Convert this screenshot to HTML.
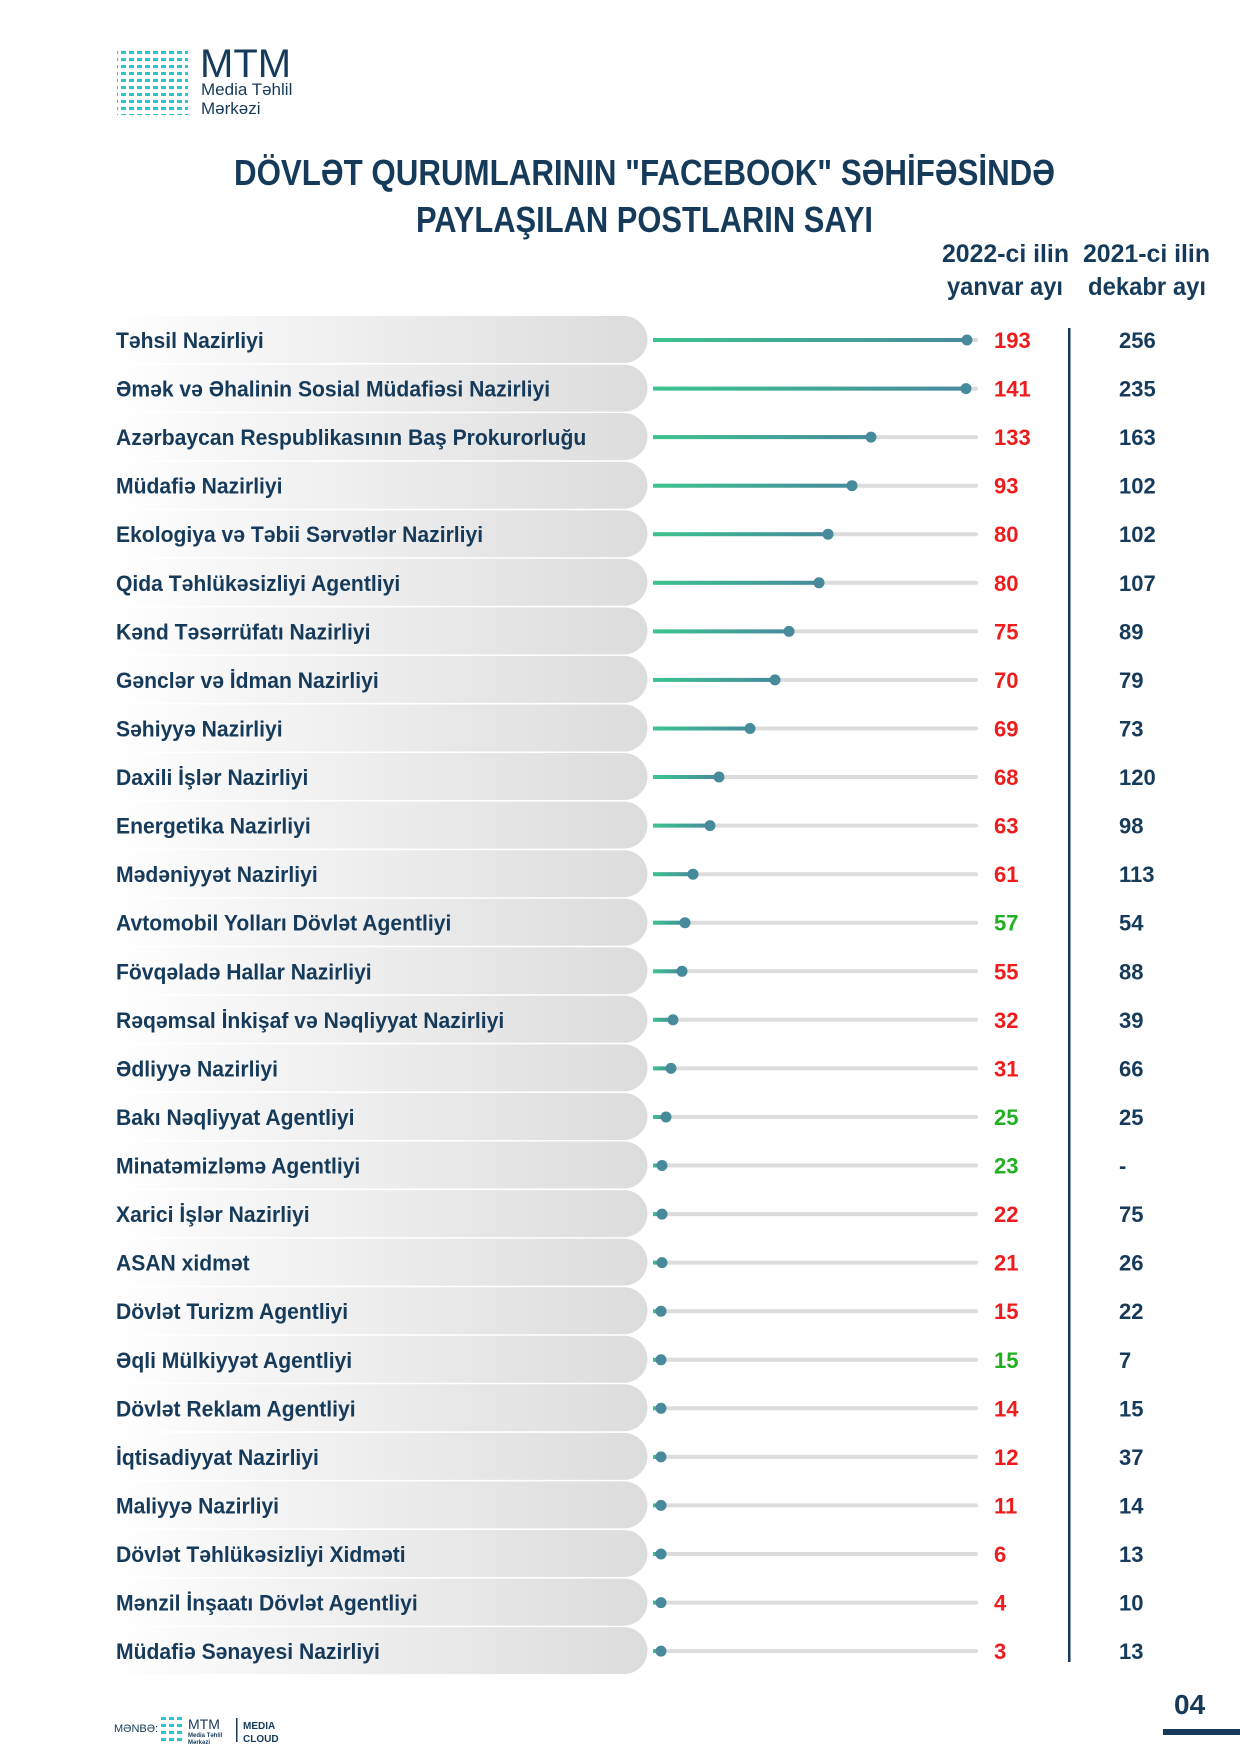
<!DOCTYPE html>
<html><head><meta charset="utf-8"><style>
html,body{margin:0;padding:0;background:#fff}
svg{display:block}
text{font-family:"Liberation Sans",sans-serif;font-weight:bold}
.l{font-size:22px;fill:#163a5a}
.v{font-size:22px}
.r{fill:#ee1c1c}.gr{fill:#22b022}
.w{font-size:22px;fill:#163a5a}
.p{fill:url(#pg)}
.t{fill:#dcdcdc}
.c{fill:url(#lg)}
circle{fill:#468a9c}
</style></head><body>
<svg width="1240" height="1754" viewBox="0 0 1240 1754" xmlns="http://www.w3.org/2000/svg">
<defs>
<linearGradient id="pg" x1="0" x2="1" y1="0" y2="0"><stop offset="0" stop-color="#fff"/><stop offset="0.35" stop-color="#f2f2f2"/><stop offset="1" stop-color="#dcdcdc"/></linearGradient>
<linearGradient id="lg" x1="0" x2="1" y1="0" y2="0"><stop offset="0" stop-color="#3cc48e"/><stop offset="1" stop-color="#468a9c"/></linearGradient>
<pattern id="lp" width="8" height="7" patternUnits="userSpaceOnUse"><rect x="1" y="2" width="5" height="3" fill="#2ec4c8"/></pattern>
</defs>
<!-- logo -->
<rect x="117" y="47" width="71" height="68" fill="url(#lp)"/>
<text x="200" y="77" style="font-size:40px;font-weight:normal;fill:#163a5a">MTM</text>
<text x="201" y="95" style="font-size:17px;font-weight:normal;fill:#163a5a">Media Təhlil</text>
<text x="201" y="114" style="font-size:17px;font-weight:normal;fill:#163a5a">Mərkəzi</text>
<!-- title -->
<text x="234" y="185" textLength="821" lengthAdjust="spacingAndGlyphs" style="font-size:36px;fill:#163a5a">DÖVLƏT QURUMLARININ "FACEBOOK" SƏHİFƏSİNDƏ</text>
<text x="416" y="232" textLength="457" lengthAdjust="spacingAndGlyphs" style="font-size:36px;fill:#163a5a">PAYLAŞILAN POSTLARIN SAYI</text>
<text x="942" y="262" textLength="127" lengthAdjust="spacingAndGlyphs" style="font-size:25px;fill:#163a5a">2022-ci ilin</text>
<text x="947" y="295" textLength="116" lengthAdjust="spacingAndGlyphs" style="font-size:25px;fill:#163a5a">yanvar ayı</text>
<text x="1083" y="262" textLength="127" lengthAdjust="spacingAndGlyphs" style="font-size:25px;fill:#163a5a">2021-ci ilin</text>
<text x="1088" y="295" textLength="118" lengthAdjust="spacingAndGlyphs" style="font-size:25px;fill:#163a5a">dekabr ayı</text>
<rect x="1068" y="328" width="2.5" height="1334" fill="#163a5a"/>

<g transform="translate(0,340)"><path class="p" d="M106 -24H624a23.5 23.5 0 0 1 0 47H106Z"/><text class="l" transform="translate(116,8) scale(.96,1)">Təhsil Nazirliyi</text><rect class="t" x="653" y="-2" width="325" height="4" rx="2"/><rect class="c" x="653" y="-2" width="314" height="4"/><circle cx="967" r="5.5"/><text class="v r" x="994" y="8">193</text><text class="w" x="1119" y="8">256</text></g>
<g transform="translate(0,388.6)"><path class="p" d="M106 -24H624a23.5 23.5 0 0 1 0 47H106Z"/><text class="l" transform="translate(116,8) scale(.96,1)">Əmək və Əhalinin Sosial Müdafiəsi Nazirliyi</text><rect class="t" x="653" y="-2" width="325" height="4" rx="2"/><rect class="c" x="653" y="-2" width="313" height="4"/><circle cx="966" r="5.5"/><text class="v r" x="994" y="8">141</text><text class="w" x="1119" y="8">235</text></g>
<g transform="translate(0,437.1)"><path class="p" d="M106 -24H624a23.5 23.5 0 0 1 0 47H106Z"/><text class="l" transform="translate(116,8) scale(.96,1)">Azərbaycan Respublikasının Baş Prokurorluğu</text><rect class="t" x="653" y="-2" width="325" height="4" rx="2"/><rect class="c" x="653" y="-2" width="218" height="4"/><circle cx="871" r="5.5"/><text class="v r" x="994" y="8">133</text><text class="w" x="1119" y="8">163</text></g>
<g transform="translate(0,485.7)"><path class="p" d="M106 -24H624a23.5 23.5 0 0 1 0 47H106Z"/><text class="l" transform="translate(116,8) scale(.96,1)">Müdafiə Nazirliyi</text><rect class="t" x="653" y="-2" width="325" height="4" rx="2"/><rect class="c" x="653" y="-2" width="199" height="4"/><circle cx="852" r="5.5"/><text class="v r" x="994" y="8">93</text><text class="w" x="1119" y="8">102</text></g>
<g transform="translate(0,534.2)"><path class="p" d="M106 -24H624a23.5 23.5 0 0 1 0 47H106Z"/><text class="l" transform="translate(116,8) scale(.96,1)">Ekologiya və Təbii Sərvətlər Nazirliyi</text><rect class="t" x="653" y="-2" width="325" height="4" rx="2"/><rect class="c" x="653" y="-2" width="175" height="4"/><circle cx="828" r="5.5"/><text class="v r" x="994" y="8">80</text><text class="w" x="1119" y="8">102</text></g>
<g transform="translate(0,582.8)"><path class="p" d="M106 -24H624a23.5 23.5 0 0 1 0 47H106Z"/><text class="l" transform="translate(116,8) scale(.96,1)">Qida Təhlükəsizliyi Agentliyi</text><rect class="t" x="653" y="-2" width="325" height="4" rx="2"/><rect class="c" x="653" y="-2" width="166" height="4"/><circle cx="819" r="5.5"/><text class="v r" x="994" y="8">80</text><text class="w" x="1119" y="8">107</text></g>
<g transform="translate(0,631.4)"><path class="p" d="M106 -24H624a23.5 23.5 0 0 1 0 47H106Z"/><text class="l" transform="translate(116,8) scale(.96,1)">Kənd Təsərrüfatı Nazirliyi</text><rect class="t" x="653" y="-2" width="325" height="4" rx="2"/><rect class="c" x="653" y="-2" width="136" height="4"/><circle cx="789" r="5.5"/><text class="v r" x="994" y="8">75</text><text class="w" x="1119" y="8">89</text></g>
<g transform="translate(0,679.9)"><path class="p" d="M106 -24H624a23.5 23.5 0 0 1 0 47H106Z"/><text class="l" transform="translate(116,8) scale(.96,1)">Gənclər və İdman Nazirliyi</text><rect class="t" x="653" y="-2" width="325" height="4" rx="2"/><rect class="c" x="653" y="-2" width="122" height="4"/><circle cx="775" r="5.5"/><text class="v r" x="994" y="8">70</text><text class="w" x="1119" y="8">79</text></g>
<g transform="translate(0,728.5)"><path class="p" d="M106 -24H624a23.5 23.5 0 0 1 0 47H106Z"/><text class="l" transform="translate(116,8) scale(.96,1)">Səhiyyə Nazirliyi</text><rect class="t" x="653" y="-2" width="325" height="4" rx="2"/><rect class="c" x="653" y="-2" width="97" height="4"/><circle cx="750" r="5.5"/><text class="v r" x="994" y="8">69</text><text class="w" x="1119" y="8">73</text></g>
<g transform="translate(0,777)"><path class="p" d="M106 -24H624a23.5 23.5 0 0 1 0 47H106Z"/><text class="l" transform="translate(116,8) scale(.96,1)">Daxili İşlər Nazirliyi</text><rect class="t" x="653" y="-2" width="325" height="4" rx="2"/><rect class="c" x="653" y="-2" width="66" height="4"/><circle cx="719" r="5.5"/><text class="v r" x="994" y="8">68</text><text class="w" x="1119" y="8">120</text></g>
<g transform="translate(0,825.6)"><path class="p" d="M106 -24H624a23.5 23.5 0 0 1 0 47H106Z"/><text class="l" transform="translate(116,8) scale(.96,1)">Energetika Nazirliyi</text><rect class="t" x="653" y="-2" width="325" height="4" rx="2"/><rect class="c" x="653" y="-2" width="57" height="4"/><circle cx="710" r="5.5"/><text class="v r" x="994" y="8">63</text><text class="w" x="1119" y="8">98</text></g>
<g transform="translate(0,874.2)"><path class="p" d="M106 -24H624a23.5 23.5 0 0 1 0 47H106Z"/><text class="l" transform="translate(116,8) scale(.96,1)">Mədəniyyət Nazirliyi</text><rect class="t" x="653" y="-2" width="325" height="4" rx="2"/><rect class="c" x="653" y="-2" width="40" height="4"/><circle cx="693" r="5.5"/><text class="v r" x="994" y="8">61</text><text class="w" x="1119" y="8">113</text></g>
<g transform="translate(0,922.7)"><path class="p" d="M106 -24H624a23.5 23.5 0 0 1 0 47H106Z"/><text class="l" transform="translate(116,8) scale(.96,1)">Avtomobil Yolları Dövlət Agentliyi</text><rect class="t" x="653" y="-2" width="325" height="4" rx="2"/><rect class="c" x="653" y="-2" width="32" height="4"/><circle cx="685" r="5.5"/><text class="v gr" x="994" y="8">57</text><text class="w" x="1119" y="8">54</text></g>
<g transform="translate(0,971.3)"><path class="p" d="M106 -24H624a23.5 23.5 0 0 1 0 47H106Z"/><text class="l" transform="translate(116,8) scale(.96,1)">Fövqəladə Hallar Nazirliyi</text><rect class="t" x="653" y="-2" width="325" height="4" rx="2"/><rect class="c" x="653" y="-2" width="29" height="4"/><circle cx="682" r="5.5"/><text class="v r" x="994" y="8">55</text><text class="w" x="1119" y="8">88</text></g>
<g transform="translate(0,1019.8)"><path class="p" d="M106 -24H624a23.5 23.5 0 0 1 0 47H106Z"/><text class="l" transform="translate(116,8) scale(.96,1)">Rəqəmsal İnkişaf və Nəqliyyat Nazirliyi</text><rect class="t" x="653" y="-2" width="325" height="4" rx="2"/><rect class="c" x="653" y="-2" width="20" height="4"/><circle cx="673" r="5.5"/><text class="v r" x="994" y="8">32</text><text class="w" x="1119" y="8">39</text></g>
<g transform="translate(0,1068.4)"><path class="p" d="M106 -24H624a23.5 23.5 0 0 1 0 47H106Z"/><text class="l" transform="translate(116,8) scale(.96,1)">Ədliyyə Nazirliyi</text><rect class="t" x="653" y="-2" width="325" height="4" rx="2"/><rect class="c" x="653" y="-2" width="18" height="4"/><circle cx="671" r="5.5"/><text class="v r" x="994" y="8">31</text><text class="w" x="1119" y="8">66</text></g>
<g transform="translate(0,1117)"><path class="p" d="M106 -24H624a23.5 23.5 0 0 1 0 47H106Z"/><text class="l" transform="translate(116,8) scale(.96,1)">Bakı Nəqliyyat Agentliyi</text><rect class="t" x="653" y="-2" width="325" height="4" rx="2"/><rect class="c" x="653" y="-2" width="13" height="4"/><circle cx="666" r="5.5"/><text class="v gr" x="994" y="8">25</text><text class="w" x="1119" y="8">25</text></g>
<g transform="translate(0,1165.5)"><path class="p" d="M106 -24H624a23.5 23.5 0 0 1 0 47H106Z"/><text class="l" transform="translate(116,8) scale(.96,1)">Minatəmizləmə Agentliyi</text><rect class="t" x="653" y="-2" width="325" height="4" rx="2"/><rect class="c" x="653" y="-2" width="9" height="4"/><circle cx="662" r="5.5"/><text class="v gr" x="994" y="8">23</text><text class="w" x="1119" y="8">-</text></g>
<g transform="translate(0,1214.1)"><path class="p" d="M106 -24H624a23.5 23.5 0 0 1 0 47H106Z"/><text class="l" transform="translate(116,8) scale(.96,1)">Xarici İşlər Nazirliyi</text><rect class="t" x="653" y="-2" width="325" height="4" rx="2"/><rect class="c" x="653" y="-2" width="9" height="4"/><circle cx="662" r="5.5"/><text class="v r" x="994" y="8">22</text><text class="w" x="1119" y="8">75</text></g>
<g transform="translate(0,1262.6)"><path class="p" d="M106 -24H624a23.5 23.5 0 0 1 0 47H106Z"/><text class="l" transform="translate(116,8) scale(.96,1)">ASAN xidmət</text><rect class="t" x="653" y="-2" width="325" height="4" rx="2"/><rect class="c" x="653" y="-2" width="9" height="4"/><circle cx="662" r="5.5"/><text class="v r" x="994" y="8">21</text><text class="w" x="1119" y="8">26</text></g>
<g transform="translate(0,1311.2)"><path class="p" d="M106 -24H624a23.5 23.5 0 0 1 0 47H106Z"/><text class="l" transform="translate(116,8) scale(.96,1)">Dövlət Turizm Agentliyi</text><rect class="t" x="653" y="-2" width="325" height="4" rx="2"/><rect class="c" x="653" y="-2" width="8" height="4"/><circle cx="661" r="5.5"/><text class="v r" x="994" y="8">15</text><text class="w" x="1119" y="8">22</text></g>
<g transform="translate(0,1359.8)"><path class="p" d="M106 -24H624a23.5 23.5 0 0 1 0 47H106Z"/><text class="l" transform="translate(116,8) scale(.96,1)">Əqli Mülkiyyət Agentliyi</text><rect class="t" x="653" y="-2" width="325" height="4" rx="2"/><rect class="c" x="653" y="-2" width="8" height="4"/><circle cx="661" r="5.5"/><text class="v gr" x="994" y="8">15</text><text class="w" x="1119" y="8">7</text></g>
<g transform="translate(0,1408.3)"><path class="p" d="M106 -24H624a23.5 23.5 0 0 1 0 47H106Z"/><text class="l" transform="translate(116,8) scale(.96,1)">Dövlət Reklam Agentliyi</text><rect class="t" x="653" y="-2" width="325" height="4" rx="2"/><rect class="c" x="653" y="-2" width="8" height="4"/><circle cx="661" r="5.5"/><text class="v r" x="994" y="8">14</text><text class="w" x="1119" y="8">15</text></g>
<g transform="translate(0,1456.9)"><path class="p" d="M106 -24H624a23.5 23.5 0 0 1 0 47H106Z"/><text class="l" transform="translate(116,8) scale(.96,1)">İqtisadiyyat Nazirliyi</text><rect class="t" x="653" y="-2" width="325" height="4" rx="2"/><rect class="c" x="653" y="-2" width="8" height="4"/><circle cx="661" r="5.5"/><text class="v r" x="994" y="8">12</text><text class="w" x="1119" y="8">37</text></g>
<g transform="translate(0,1505.4)"><path class="p" d="M106 -24H624a23.5 23.5 0 0 1 0 47H106Z"/><text class="l" transform="translate(116,8) scale(.96,1)">Maliyyə Nazirliyi</text><rect class="t" x="653" y="-2" width="325" height="4" rx="2"/><rect class="c" x="653" y="-2" width="8" height="4"/><circle cx="661" r="5.5"/><text class="v r" x="994" y="8">11</text><text class="w" x="1119" y="8">14</text></g>
<g transform="translate(0,1554)"><path class="p" d="M106 -24H624a23.5 23.5 0 0 1 0 47H106Z"/><text class="l" transform="translate(116,8) scale(.96,1)">Dövlət Təhlükəsizliyi Xidməti</text><rect class="t" x="653" y="-2" width="325" height="4" rx="2"/><rect class="c" x="653" y="-2" width="8" height="4"/><circle cx="661" r="5.5"/><text class="v r" x="994" y="8">6</text><text class="w" x="1119" y="8">13</text></g>
<g transform="translate(0,1602.6)"><path class="p" d="M106 -24H624a23.5 23.5 0 0 1 0 47H106Z"/><text class="l" transform="translate(116,8) scale(.96,1)">Mənzil İnşaatı Dövlət Agentliyi</text><rect class="t" x="653" y="-2" width="325" height="4" rx="2"/><rect class="c" x="653" y="-2" width="8" height="4"/><circle cx="661" r="5.5"/><text class="v r" x="994" y="8">4</text><text class="w" x="1119" y="8">10</text></g>
<g transform="translate(0,1651.1)"><path class="p" d="M106 -24H624a23.5 23.5 0 0 1 0 47H106Z"/><text class="l" transform="translate(116,8) scale(.96,1)">Müdafiə Sənayesi Nazirliyi</text><rect class="t" x="653" y="-2" width="325" height="4" rx="2"/><rect class="c" x="653" y="-2" width="8" height="4"/><circle cx="661" r="5.5"/><text class="v r" x="994" y="8">3</text><text class="w" x="1119" y="8">13</text></g>

<!-- footer -->
<text x="114" y="1732" style="font-size:11px;font-weight:normal;fill:#163a5a">MƏNBƏ:</text>
<rect x="159" y="1716" width="26" height="26" fill="url(#lp)"/>
<text x="188" y="1729" style="font-size:14px;font-weight:normal;fill:#163a5a">MTM</text>
<text x="188" y="1737" style="font-size:6px;fill:#163a5a">Media Təhlil</text>
<text x="188" y="1744" style="font-size:6px;fill:#163a5a">Mərkəzi</text>
<rect x="236" y="1718" width="1.5" height="24" fill="#163a5a"/>
<text x="243" y="1729" style="font-size:10px;fill:#163a5a">MEDIA</text>
<text x="243" y="1742" style="font-size:10px;fill:#163a5a">CLOUD</text>
<text x="1174" y="1714" style="font-size:28px;fill:#163a5a">04</text>
<rect x="1163" y="1729" width="77" height="6" fill="#163a5a"/>
</svg>
</body></html>
